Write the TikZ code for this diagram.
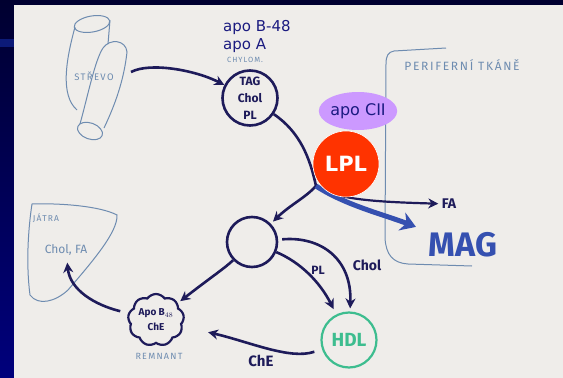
\documentclass[tikz,border=0pt]{standalone}
\usepackage{fontspec}
\setmainfont{DejaVu Sans}
\newfontfamily\handfont{Fira Sans}
\newfontfamily\capsfont[LetterSpace=14]{Fira Sans}
\usetikzlibrary{arrows.meta,shapes.geometric,shapes.symbols}

\definecolor{navytop}{HTML}{000030}
\definecolor{navybot}{HTML}{00007C}
\definecolor{stripec}{HTML}{0C1A78}
\definecolor{paperc}{HTML}{EFEDEA}
\definecolor{inkc}{HTML}{1E1B5A}
\definecolor{pencilc}{HTML}{6E8CB0}
\definecolor{slidec}{HTML}{1A1A80}
\definecolor{lplc}{HTML}{FF3300}
\definecolor{apocc}{HTML}{CC99FF}
\definecolor{hdlc}{HTML}{3DBD8F}
\definecolor{magc}{HTML}{3550B0}

\tikzset{
  ink/.style={draw=inkc, line width=2.6pt},
  pencil/.style={draw=pencilc, line width=1pt},
  flow/.style={draw=inkc, line width=2.6pt, -{Stealth[length=10pt,width=10pt]}},
  hand/.style={text=inkc, font=\handfont\bfseries\fontsize{12}{17}\selectfont},
  caps/.style={text=pencilc, inner sep=1pt, font=\capsfont\fontsize{8.5}{10}\selectfont},
  slide/.style={text=slidec, font=\fontsize{15}{17}\selectfont},
}

\begin{document}
\begin{tikzpicture}[x=1pt,y=-1pt]
  \useasboundingbox (0,0) rectangle (563,378);
  % slide frame and paper
  \fill[top color=navytop, bottom color=navybot] (0,0) rectangle (563,378);
  \fill[stripec] (0,39) rectangle (14,47);
  \fill[paperc] (14,5) rectangle (563,378);

  % strevo
  \draw[pencil, rotate around={10:(92,24)}] (92,24) ellipse [x radius=18, y radius=8];
  \draw[pencil] (75,27) .. controls (66,60) and (60,95) .. (77,110);
  \draw[pencil] (110,20) -- (108,44);
  \draw[pencil] (80,124) .. controls (88,95) and (95,60) .. (103,48)
    .. controls (110,38) and (126,40) .. (127,52)
    .. controls (124,80) and (115,105) .. (104,128);
  \draw[pencil, rotate around={-20:(90,131)}] (90,131) ellipse [x radius=13, y radius=8];
  \node[caps, font=\capsfont\fontsize{9.5}{10}\selectfont] (strevo) at (94,76) {STŘEVO};
  \coordinate (gut) at (131,72);

  % jatra
  \draw[pencil] (32,204) .. controls (60,203) and (100,206) .. (117,215)
    .. controls (118,232) and (92,262) .. (68,290)
    .. controls (55,302) and (38,306) .. (30,295)
    .. controls (26,265) and (28,230) .. cycle;
  \node[caps] (jatra) at (46,218) {JÁTRA};
  \node[caps, font=\handfont\fontsize{12}{13}\selectfont] (cholfa) at (66,250) {Chol, FA};

  % periferni tkane
  \draw[pencil] (446,48) -- (394,51) .. controls (388,52) and (386,56) .. (386,64)
    -- (385,238) .. controls (386,255) and (393,263) .. (408,264) -- (472,266);
  \node[caps, font=\capsfont\fontsize{12}{13}\selectfont] (tkane) at (462,65) {PERIFERNÍ TKÁNĚ};

  % slide texts
  \node[slide, anchor=base west, inner sep=0] (apob) at (223,31) {apo B-48};
  \node[slide, anchor=base west, inner sep=0] (apoa) at (223,49) {apo A};
  \node[caps, font=\capsfont\fontsize{7.5}{8}\selectfont] (chylom) at (245,60) {CHYLOM.};

  % particles
  \node[circle, ink, hand, minimum size=55pt, inner sep=0, align=center] (chylo) at (250,98) {TAG\\Chol\\PL};
  \node[circle, ink, minimum size=50pt] (idl) at (252,242) {};
  \node[cloud, ink, line width=2.2pt, cloud puffs=9, cloud puff arc=110, aspect=1.1,
        minimum width=56pt, minimum height=52pt, inner sep=0, align=center,
        hand, font=\handfont\bfseries\fontsize{10}{15}\selectfont] (remnant) at (156,320) {Apo B$_{48}$\\ChE};
  \node[caps, font=\capsfont\fontsize{9}{10}\selectfont] (remlab) at (159,356) {REMNANT};
  \node[circle, draw=hdlc, line width=2.2pt, minimum size=55pt, text=hdlc,
        font=\handfont\bfseries\fontsize{19}{20}\selectfont] (hdl) at (349,340) {HDL};
  \node[text=inkc, font=\handfont\bfseries\fontsize{14}{15}\selectfont] (fa) at (449,204) {FA};
  \node[text=magc, font=\handfont\bfseries\fontsize{34}{35}\selectfont] (mag) at (463,245) {MAG};
  \coordinate (split) at (316,186);

  % labels on connectors
  \node[hand] (pl) at (318,270) {PL};
  \node[hand, font=\handfont\bfseries\fontsize{14}{15}\selectfont] (chol) at (367,265) {Chol};
  \node[hand, font=\handfont\bfseries\fontsize{15}{16}\selectfont] (che) at (261,361) {ChE};

  % connectors
  \draw[flow] (gut) .. controls (150,62) and (195,70) .. (chylo);
  \draw[ink] (chylo) .. controls (300,132) and (310,158) .. (split);
  \draw[flow, shorten >=3pt] (split) .. controls (305,198) and (290,205) .. (idl);
  \draw[flow, line width=2.2pt] (split) .. controls (335,200) and (380,202) .. (fa);
  \draw[draw=magc, line width=5pt, -{Stealth[length=15pt,width=19pt]}, shorten >=10pt]
    (split) .. controls (345,205) and (385,215) .. (mag);
  \draw[flow, shorten >=3pt] (idl) .. controls (225,268) and (210,278) .. (remnant);
  \draw[flow, shorten >=6pt] (idl) .. controls (300,262) and (320,282) .. (hdl);
  \draw[flow, shorten <=4pt, shorten >=3pt] (idl) .. controls (320,236) and (352,258) .. (hdl);
  \draw[flow, shorten <=8pt, shorten >=26pt] (hdl) .. controls (290,360) and (250,342) .. (remnant);
  \draw[flow, shorten <=8pt, shorten >=6pt] (remnant) .. controls (95,305) and (70,290) .. (cholfa);

  % lipase
  \node[ellipse, fill=apocc, minimum width=62pt, minimum height=38pt, inner sep=0,
        text=slidec, font=\fontsize{16}{17}\selectfont] (apocii) at (358,111) {apo CII};
  \node[circle, fill=lplc, draw=white, line width=0.6pt, minimum size=66pt, text=white,
        font=\bfseries\fontsize{21}{22}\selectfont] (lpl) at (346,164) {LPL};
\end{tikzpicture}
\end{document}
